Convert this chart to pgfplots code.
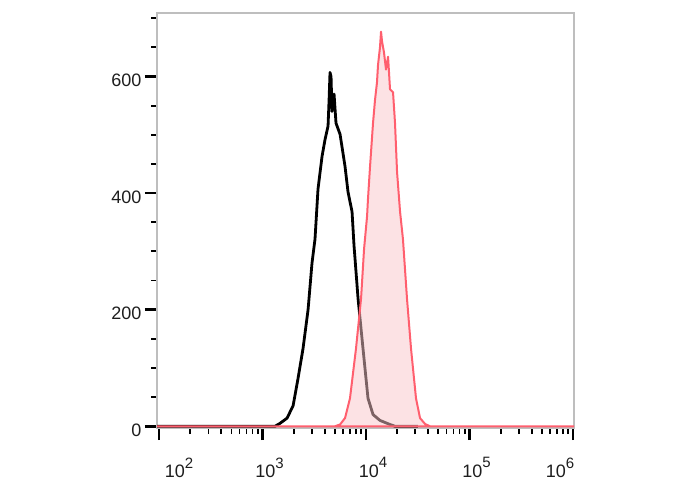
\documentclass[border=0pt]{standalone}
\usepackage{fontspec}
\setmainfont{Liberation Sans}
\usepackage{pgfplots}
\pgfplotsset{compat=1.18}
\definecolor{redline}{RGB}{255,95,110}
\definecolor{pinkfill}{RGB}{249,197,201}
\definecolor{framegray}{RGB}{190,190,190}
\definecolor{labelgray}{RGB}{30,30,30}
\newcommand{\tp}[1]{10\raisebox{0.55em}{\fontsize{15}{15}\selectfont #1}}
\begin{document}
\begin{tikzpicture}[x=1pt,y=1pt]
\useasboundingbox (0,0) rectangle (688,490);
\begin{axis}[
  at={(157pt,62pt)}, anchor=south west,
  scale only axis, width=417pt, height=415pt,
  xmin=1.98, xmax=6.01, ymin=-3, ymax=709,
  axis line style={framegray, line width=1.5pt},
  tick align=outside, xtick pos=bottom, ytick pos=left,
  major tick length=12pt, minor tick length=6pt,
  major tick style={black, line width=2.6pt},
  minor tick style={black, line width=1.8pt},
  xtick={2,3,4,5,6},
  xticklabels={\hspace*{26pt}\tp{2},\tp{3},\tp{4},\tp{5},\tp{6}\hspace*{40pt}},
  minor xtick={2.301,2.477,2.602,2.699,2.778,2.845,2.903,2.954,
               3.301,3.477,3.602,3.699,3.778,3.845,3.903,3.954,
               4.301,4.477,4.602,4.699,4.778,4.845,4.903,4.954,
               5.301,5.477,5.602,5.699,5.778,5.845,5.903,5.954},
  ytick={0,200,400,600},
  minor ytick={50,100,150,250,300,350,450,500,550,650,700},
  xticklabel style={font=\fontsize{18}{20}\selectfont, text=labelgray, xshift=7pt, yshift=-14pt},
  yticklabel style={font=\fontsize{18}{20}\selectfont, text=labelgray, yshift=-4pt, /pgf/number format/assume math mode=true},
  clip=true,
]
\addplot[black, line width=2.8pt, line join=round] table {
1.98 0
3.121 0
3.169 5
3.237 14
3.295 35
3.343 82
3.391 133
3.440 200
3.478 280
3.507 321
3.536 407
3.575 463
3.604 492
3.633 515
3.643 560
3.652 607
3.662 600
3.671 540
3.691 570
3.710 520
3.749 501
3.797 446
3.826 402
3.865 368
3.884 310
3.923 219
3.971 133
4.019 48
4.068 20
4.135 10
4.232 3
4.280 0
4.5 0
};
\addplot[redline, line width=2pt, line join=round, fill=pinkfill, fill opacity=0.5] table {
1.98 0
3.700 0
3.749 3
3.797 14
3.845 48
3.903 133
3.952 219
3.981 304
4.010 360
4.019 390
4.039 446
4.068 521
4.087 560
4.106 590
4.116 620
4.135 650
4.145 677
4.155 660
4.174 641
4.193 612
4.213 634
4.232 578
4.261 573
4.280 521
4.300 436
4.329 368
4.357 321
4.396 219
4.435 133
4.483 48
4.522 14
4.570 4
4.618 0
6.01 0
} \closedcycle;
\end{axis}
\end{tikzpicture}
\end{document}
